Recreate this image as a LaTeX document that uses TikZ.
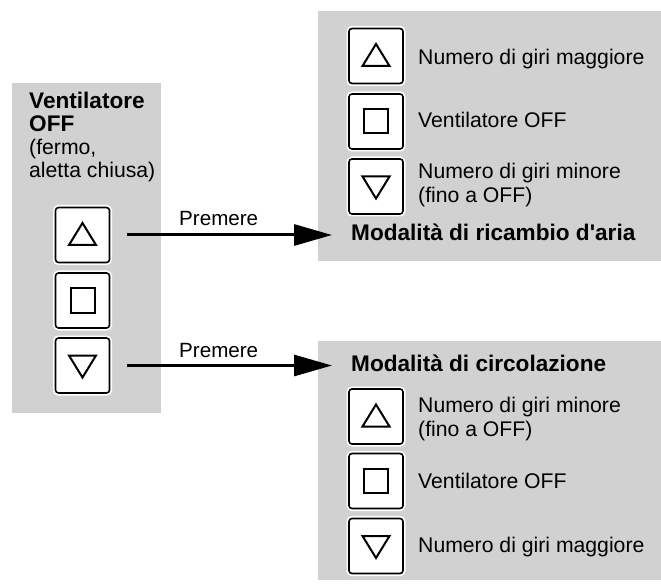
\documentclass[tikz,border=0pt]{standalone}
\usepackage{fontspec}
\setmainfont{Liberation Sans}[Ligatures=TeXOff]
\usetikzlibrary{arrows.meta}
\definecolor{panelgray}{RGB}{209,209,209}
\tikzset{
  btn/.style={draw=black, fill=white, line width=1.6pt, rounded corners=3pt,
    minimum width=54pt, minimum height=55pt, inner sep=0pt,
    preaction={draw=white, line width=5pt}},
  upglyph/.style={path picture={\draw[sharp corners, line width=2pt, line join=miter]
    ([shift={(0,-12)}]path picture bounding box.center) --
    ([shift={(13.5,10)}]path picture bounding box.center) --
    ([shift={(-13.5,10)}]path picture bounding box.center) -- cycle;}},
  downglyph/.style={path picture={\draw[sharp corners, line width=2pt, line join=miter]
    ([shift={(0,12)}]path picture bounding box.center) --
    ([shift={(13.5,-10)}]path picture bounding box.center) --
    ([shift={(-13.5,-10)}]path picture bounding box.center) -- cycle;}},
  stopglyph/.style={path picture={\draw[sharp corners, line width=2pt]
    ([shift={(-12,-12)}]path picture bounding box.center) rectangle
    ([shift={(12,12)}]path picture bounding box.center);}},
  reg/.style={font=\fontsize{21.2pt}{24pt}\selectfont, inner sep=0pt, anchor=base west},
  bld/.style={font=\fontsize{22.6pt}{24pt}\selectfont\bfseries, inner sep=0pt, anchor=base west},
  arr/.style={line width=3pt, -{Triangle[length=38pt,width=21pt]}}
}
\begin{document}
\begin{tikzpicture}[x=1pt, y=-1pt]
\useasboundingbox (0,0) rectangle (661,585);
% panels
\fill[panelgray] (12,83) rectangle (161,413);
\fill[panelgray] (318,11) rectangle (661,261);
\fill[panelgray] (318,341) rectangle (661,580);
% left panel text
\node[bld] (lt1) at (29,109) {Ventilatore};
\node[bld] (lt2) at (29,132) {OFF};
\node[reg] (lt3) at (29,155) {(fermo,};
\node[reg] (lt4) at (29,178) {aletta chiusa)};
% left buttons
\node[btn, upglyph] (L1) at (82.5,235) {};
\node[btn, stopglyph] (L2) at (82.5,300.5) {};
\node[btn, downglyph] (L3) at (82.5,365.5) {};
% top right panel
\node[btn, upglyph] (A1) at (376,56) {};
\node[btn, stopglyph] (A2) at (376,121.5) {};
\node[btn, downglyph] (A3) at (376,186.5) {};
\node[reg] (at1) at (418,65) {Numero di giri maggiore};
\node[reg] (at2) at (418,128) {Ventilatore OFF};
\node[reg] (at3) at (418,179) {Numero di giri minore};
\node[reg] (at4) at (418,203) {(fino a OFF)};
\node[bld] (atitle) at (351,241) {Modalità di ricambio d'aria};
% bottom right panel
\node[bld] (btitle) at (351,371) {Modalità di circolazione};
\node[btn, upglyph] (B1) at (376,416.5) {};
\node[btn, stopglyph] (B2) at (376,481) {};
\node[btn, downglyph] (B3) at (376,546) {};
\node[reg] (bt1) at (418,412) {Numero di giri minore};
\node[reg] (bt2) at (418,436) {(fino a OFF)};
\node[reg] (bt3) at (418,488) {Ventilatore OFF};
\node[reg] (bt4) at (418,552) {Numero di giri maggiore};
% arrows
\coordinate (s1) at (127,235);
\coordinate (e1) at (332,235);
\coordinate (s2) at (127,365.5);
\coordinate (e2) at (332,365.5);
\draw[arr] (s1) -- (e1);
\draw[arr] (s2) -- (e2);
\node[reg, font=\fontsize{20.6pt}{24pt}\selectfont] (p1) at (179,226) {Premere};
\node[reg, font=\fontsize{20.6pt}{24pt}\selectfont] (p2) at (179,357) {Premere};
\end{tikzpicture}
\end{document}
